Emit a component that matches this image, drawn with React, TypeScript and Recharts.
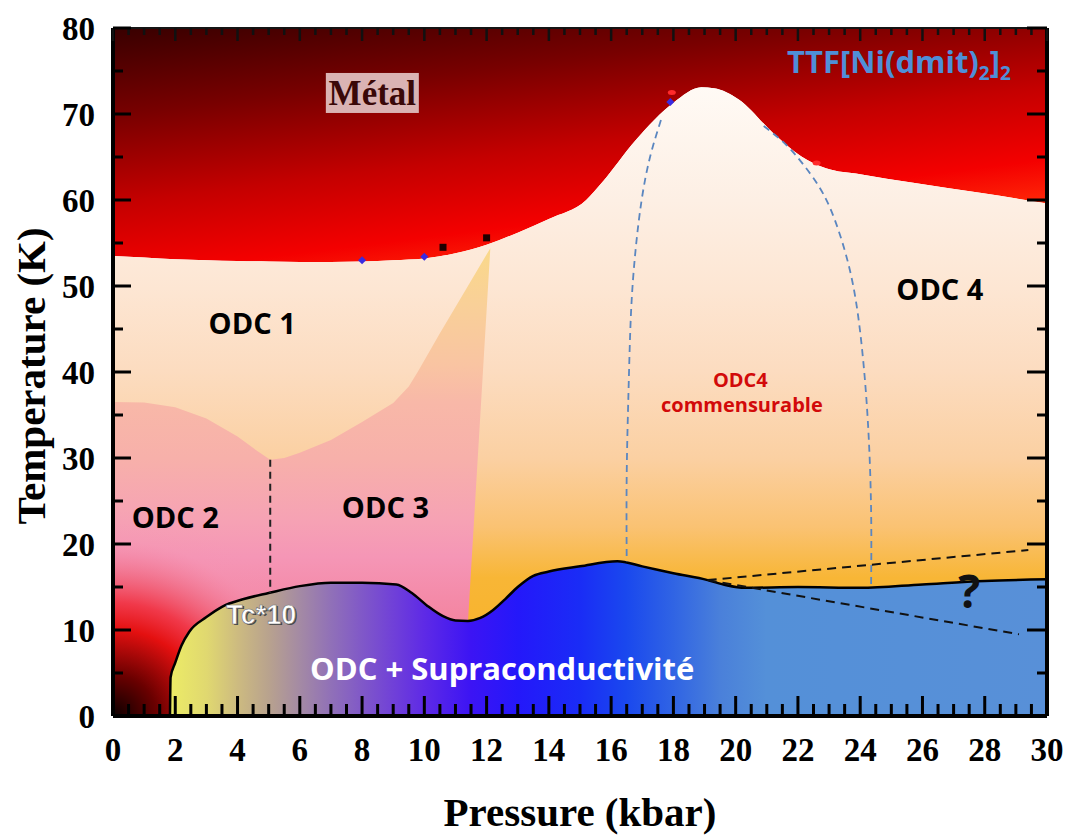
import React from 'react';
import { ComposedChart, Area, Line, XAxis, YAxis, ReferenceDot } from 'recharts';

const SERIF = '"Liberation Serif", "Times New Roman", serif';
const SANS = '"Open Sans", "Noto Sans", sans-serif';
const ARIAL = '"Liberation Sans", Arial, sans-serif';

// Metal -> ODC transition (pressure kbar, temperature K)
const metalBoundary = [
  { p: 0, t: 53.5 }, { p: 1, t: 53.3 }, { p: 2, t: 53.1 }, { p: 3, t: 53.0 }, { p: 4, t: 52.9 },
  { p: 5, t: 52.85 }, { p: 6, t: 52.8 }, { p: 7, t: 52.8 }, { p: 8, t: 52.85 }, { p: 9, t: 53.0 },
  { p: 10, t: 53.2 }, { p: 11, t: 53.8 }, { p: 12, t: 54.8 }, { p: 13, t: 56.2 }, { p: 14, t: 57.8 },
  { p: 15.2, t: 60.0 }, { p: 15.7, t: 62.0 }, { p: 16.8, t: 67.0 }, { p: 18, t: 71.3 }, { p: 18.9, t: 73.1 },
  { p: 19.3, t: 73.0 }, { p: 20.1, t: 71.7 }, { p: 21.2, t: 67.8 }, { p: 22.1, t: 65.1 }, { p: 22.9, t: 63.7 },
  { p: 24, t: 63.0 }, { p: 25.7, t: 62.0 }, { p: 27.9, t: 60.8 }, { p: 30, t: 59.6 },
];

// ODC1 / (ODC2, ODC3) boundary
const odc1Boundary = [
  { p: 0, t: 36.5 }, { p: 1, t: 36.45 }, { p: 2, t: 35.9 }, { p: 3, t: 34.6 }, { p: 4, t: 32.5 },
  { p: 4.6, t: 30.9 }, { p: 5.05, t: 29.8 }, { p: 5.5, t: 30.0 }, { p: 6, t: 30.6 }, { p: 7, t: 32.1 },
  { p: 8, t: 34.2 }, { p: 9, t: 36.4 }, { p: 9.5, t: 38.3 }, { p: 9.8, t: 40.1 }, { p: 10.5, t: 44.5 },
  { p: 11.22, t: 48.9 },
];
const wedgeTip = { p: 12.12, t: 54.4 };

// Superconducting dome (Tc*10)
const scDome = [
  { p: 1.83, t: 0 }, { p: 1.85, t: 4.5 }, { p: 2.0, t: 6.2 }, { p: 2.2, t: 8.2 }, { p: 2.45, t: 9.8 },
  { p: 3.0, t: 11.5 }, { p: 3.5, t: 12.7 }, { p: 4.2, t: 13.6 }, { p: 5.0, t: 14.3 }, { p: 6.0, t: 15.1 },
  { p: 7.0, t: 15.5 }, { p: 8.0, t: 15.5 }, { p: 9.1, t: 15.3 }, { p: 9.6, t: 14.3 }, { p: 10.1, t: 12.8 },
  { p: 10.6, t: 11.6 }, { p: 11.0, t: 11.1 }, { p: 11.4, t: 11.05 }, { p: 11.8, t: 11.4 }, { p: 12.2, t: 12.3 },
  { p: 12.6, t: 13.6 }, { p: 13.0, t: 15.0 }, { p: 13.5, t: 16.3 }, { p: 14.0, t: 16.8 }, { p: 15.0, t: 17.4 },
  { p: 16.2, t: 18.0 }, { p: 17.0, t: 17.4 }, { p: 18.0, t: 16.6 }, { p: 19.1, t: 15.8 }, { p: 19.7, t: 15.2 },
  { p: 20.3, t: 14.9 }, { p: 22, t: 15.0 }, { p: 24, t: 14.9 }, { p: 26, t: 15.3 }, { p: 28, t: 15.7 },
  { p: 30, t: 15.9 },
];

const cornerGlow = [{ p: 0, t: 24 }, { p: 7, t: 24 }];

const odc23Divider = [{ p: 5.05, t: 29.8 }, { p: 5.05, t: 14.3 }];
const commLeft = [
  { p: 17.6, t: 69.3 }, { p: 17.25, t: 65 }, { p: 16.98, t: 60 }, { p: 16.78, t: 54 }, { p: 16.64, t: 47 },
  { p: 16.56, t: 38 }, { p: 16.5, t: 28 }, { p: 16.5, t: 18.0 },
];
const commRight = [
  { p: 20.9, t: 68.6 }, { p: 21.6, t: 66.5 }, { p: 22.2, t: 64 }, { p: 22.8, t: 60.8 }, { p: 23.3, t: 56.5 },
  { p: 23.75, t: 50.5 }, { p: 24.05, t: 43 }, { p: 24.25, t: 34 }, { p: 24.35, t: 24 }, { p: 24.35, t: 15.0 },
];
const upperDashed = [{ p: 19.1, t: 15.8 }, { p: 29.4, t: 19.3 }];
const lowerDashed = [{ p: 19.1, t: 15.8 }, { p: 29.1, t: 9.5 }];

const blueDiamonds = [{ p: 8.0, t: 53.0 }, { p: 10.0, t: 53.4 }, { p: 17.9, t: 71.4 }];
const darkSquares = [{ p: 10.6, t: 54.5 }, { p: 12.0, t: 55.6 }];
const redMarks = [{ p: 17.95, t: 72.5 }, { p: 22.6, t: 64.3 }];

const xTicks = [
  0, 0.5, 1, 1.5, 2, 2.5, 3, 3.5, 4, 4.5, 5, 5.5, 6, 6.5, 7, 7.5, 8, 8.5, 9, 9.5, 10, 10.5, 11, 11.5,
  12, 12.5, 13, 13.5, 14, 14.5, 15, 15.5, 16, 16.5, 17, 17.5, 18, 18.5, 19, 19.5, 20, 20.5, 21, 21.5,
  22, 22.5, 23, 23.5, 24, 24.5, 25, 25.5, 26, 26.5, 27, 27.5, 28, 28.5, 29, 29.5, 30,
];
const xLabels = [0, 2, 4, 6, 8, 10, 12, 14, 16, 18, 20, 22, 24, 26, 28, 30];
const yTicks = [0, 5, 10, 15, 20, 25, 30, 35, 40, 45, 50, 55, 60, 65, 70, 75, 80];
const yLabels = [0, 10, 20, 30, 40, 50, 60, 70, 80];

const regionLabels = [
  { text: 'ODC 1', p: 4.47, t: 44.4 },
  { text: 'ODC 2', p: 2.0, t: 21.9 },
  { text: 'ODC 3', p: 8.75, t: 23.0 },
  { text: 'ODC 4', p: 26.56, t: 48.4 },
];

const BottomTick = (props: any) => {
  const { x, y, payload } = props;
  const v = Number(payload.value);
  const major = xLabels.includes(v);
  return (
    <g>
      <line x1={x} x2={x} y1={y} y2={y - (major ? 20 : 12)} stroke="#000" strokeWidth={3} />
      {major && (
        <text x={x} y={y + 45} textAnchor="middle" fontFamily={SERIF} fontWeight={700} fontSize={33} fill="#000">
          {v}
        </text>
      )}
    </g>
  );
};

const TopTick = (props: any) => {
  const { x, y, payload } = props;
  const v = Number(payload.value);
  const major = xLabels.includes(v);
  return <line x1={x} x2={x} y1={y} y2={y + (major ? 13 : 7)} stroke="#111" strokeWidth={2.5} />;
};

const LeftTick = (props: any) => {
  const { x, y, payload } = props;
  const v = Number(payload.value);
  const major = yLabels.includes(v);
  return (
    <g>
      <line x1={x} x2={x + (major ? 18 : 10)} y1={y} y2={y} stroke="#000" strokeWidth={3} />
      {major && (
        <text x={x - 18} y={y} dy="0.35em" textAnchor="end" fontFamily={SERIF} fontWeight={700} fontSize={33} fill="#000">
          {v}
        </text>
      )}
    </g>
  );
};

const RightTick = (props: any) => {
  const { x, y, payload } = props;
  const v = Number(payload.value);
  const major = yLabels.includes(v);
  return <line x1={x} x2={x - (major ? 20 : 10)} y1={y} y2={y} stroke="#000" strokeWidth={3} />;
};

const XTitle = (props: any) => {
  const vb = props.viewBox || { x: 113, y: 716, width: 934, height: 60 };
  return (
    <text x={vb.x + vb.width / 2} y={vb.y + 110} textAnchor="middle" fontFamily={SERIF} fontWeight={700} fontSize={41} fill="#000">
      Pressure (kbar)
    </text>
  );
};

const YTitle = (props: any) => {
  const vb = props.viewBox || { x: 53, y: 28, width: 60, height: 688 };
  const cx = vb.x - 8;
  const cy = vb.y + vb.height / 2 + 4;
  return (
    <text x={cx} y={cy} transform={`rotate(-90, ${cx}, ${cy})`} textAnchor="middle" fontFamily={SERIF} fontWeight={700} fontSize={41} fill="#000">
      Temperature (K)
    </text>
  );
};

export default function App() {
  const metalData = metalBoundary.map((d) => ({ p: d.p, r: [d.t, 80] }));
  const pinkData = [
    ...odc1Boundary.map((d) => ({ p: d.p, r: [0, d.t] })),
    { p: wedgeTip.p, r: [wedgeTip.t, wedgeTip.t] },
  ];
  const cornerData = cornerGlow.map((d) => ({ p: d.p, r: [0, d.t] }));

  return (
    <div style={{ position: 'absolute', left: 0, top: 0, width: 1072, height: 840, background: '#fff' }}>
      <ComposedChart width={1072} height={840} margin={{ top: 18, right: 15, bottom: 64, left: 53 }}>
        <defs>
          <linearGradient id="metalGrad" x1="0" y1="0" x2="0.5" y2="1">
            <stop offset="0" stopColor="#380000" />
            <stop offset="0.3" stopColor="#780000" />
            <stop offset="0.6" stopColor="#c40000" />
            <stop offset="0.85" stopColor="#f40000" />
            <stop offset="1" stopColor="#ff2808" />
          </linearGradient>
          <linearGradient id="creamGrad" x1="0" y1="0" x2="0" y2="1">
            <stop offset="0" stopColor="#fffaf5" />
            <stop offset="0.18" stopColor="#fdefe4" />
            <stop offset="0.32" stopColor="#fde6d3" />
            <stop offset="0.45" stopColor="#fcdcc0" />
            <stop offset="0.59" stopColor="#fbd0a2" />
            <stop offset="0.7" stopColor="#fac272" />
            <stop offset="0.78" stopColor="#f8b636" />
            <stop offset="1" stopColor="#f8b020" />
          </linearGradient>
          <linearGradient id="pinkGrad" x1="0" y1="0" x2="0" y2="1">
            <stop offset="0" stopColor="#fad98a" />
            <stop offset="0.12" stopColor="#f9d098" />
            <stop offset="0.25" stopColor="#f9c4a2" />
            <stop offset="0.33" stopColor="#f8b8a8" />
            <stop offset="0.45" stopColor="#f7b0aa" />
            <stop offset="0.58" stopColor="#f6a2b4" />
            <stop offset="0.66" stopColor="#f596b6" />
            <stop offset="0.75" stopColor="#f48aa8" />
            <stop offset="1" stopColor="#f07080" />
          </linearGradient>
          <radialGradient id="cornerGrad" cx="0" cy="1" r="1" fx="0" fy="1">
            <stop offset="0" stopColor="#0a0000" stopOpacity={1} />
            <stop offset="0.2" stopColor="#6a0000" stopOpacity={1} />
            <stop offset="0.42" stopColor="#e41010" stopOpacity={1} />
            <stop offset="0.55" stopColor="#f03040" stopOpacity={0.9} />
            <stop offset="0.7" stopColor="#f06078" stopOpacity={0.55} />
            <stop offset="0.85" stopColor="#f590b0" stopOpacity={0.2} />
            <stop offset="1" stopColor="#f596b6" stopOpacity={0} />
          </radialGradient>
          <linearGradient id="domeGrad" x1="0" y1="0" x2="1" y2="0">
            <stop offset="0" stopColor="#ecec66" />
            <stop offset="0.042" stopColor="#e0d870" />
            <stop offset="0.077" stopColor="#cdbb80" />
            <stop offset="0.113" stopColor="#b8a28e" />
            <stop offset="0.148" stopColor="#a48aa4" />
            <stop offset="0.184" stopColor="#9070b8" />
            <stop offset="0.219" stopColor="#8058c8" />
            <stop offset="0.255" stopColor="#7040d8" />
            <stop offset="0.29" stopColor="#5e2ae6" />
            <stop offset="0.343" stopColor="#3c14f4" />
            <stop offset="0.397" stopColor="#2418fa" />
            <stop offset="0.467" stopColor="#1a2cf6" />
            <stop offset="0.52" stopColor="#1a48ee" />
            <stop offset="0.574" stopColor="#3064e4" />
            <stop offset="0.627" stopColor="#4a80da" />
            <stop offset="0.68" stopColor="#5490d8" />
            <stop offset="1" stopColor="#5890d8" />
          </linearGradient>
        </defs>

        <Area data={metalData} dataKey="r" type="monotone" stroke="none" fill="url(#metalGrad)" fillOpacity={1} isAnimationActive={false} activeDot={false} />
        <Area data={metalBoundary} dataKey="t" type="monotone" baseValue={0} stroke="none" fill="url(#creamGrad)" fillOpacity={1} isAnimationActive={false} activeDot={false} />
        <Area data={pinkData} dataKey="r" type="linear" stroke="none" fill="url(#pinkGrad)" fillOpacity={1} isAnimationActive={false} activeDot={false} />
        <Area data={cornerData} dataKey="r" type="linear" stroke="none" fill="url(#cornerGrad)" fillOpacity={1} isAnimationActive={false} activeDot={false} />
        <Area data={scDome} dataKey="t" type="monotone" baseValue={0} stroke="#000" strokeWidth={2.5} fill="url(#domeGrad)" fillOpacity={1} isAnimationActive={false} activeDot={false} />

        <Line data={odc23Divider} dataKey="t" type="linear" stroke="#222" strokeWidth={2} strokeDasharray="7 5" dot={false} activeDot={false} isAnimationActive={false} />
        <Line data={commLeft} dataKey="t" type="natural" stroke="#5a86c0" strokeWidth={1.8} strokeDasharray="7 5" dot={false} activeDot={false} isAnimationActive={false} />
        <Line data={commRight} dataKey="t" type="natural" stroke="#5a86c0" strokeWidth={1.8} strokeDasharray="7 5" dot={false} activeDot={false} isAnimationActive={false} />
        <Line data={upperDashed} dataKey="t" type="linear" stroke="#111" strokeWidth={2} strokeDasharray="9 6" dot={false} activeDot={false} isAnimationActive={false} />
        <Line data={lowerDashed} dataKey="t" type="linear" stroke="#111" strokeWidth={2} strokeDasharray="9 6" dot={false} activeDot={false} isAnimationActive={false} />

        <XAxis xAxisId={0} dataKey="p" type="number" domain={[0, 30]} allowDataOverflow ticks={xTicks} interval={0}
          tickSize={0} tickMargin={0} tickLine={false} tick={BottomTick} axisLine={{ stroke: '#000', strokeWidth: 4 }}
          height={60} label={XTitle} />
        <XAxis xAxisId="top" orientation="top" dataKey="p" type="number" domain={[0, 30]} allowDataOverflow ticks={xTicks} interval={0}
          tickSize={0} tickMargin={0} tickLine={false} tick={TopTick} axisLine={{ stroke: '#151515', strokeWidth: 2 }} height={10} />
        <YAxis yAxisId={0} type="number" domain={[0, 80]} allowDataOverflow ticks={yTicks} interval={0}
          tickSize={0} tickMargin={0} tickLine={false} tick={LeftTick} axisLine={{ stroke: '#000', strokeWidth: 4 }}
          width={60} label={YTitle} />
        <YAxis yAxisId="right" orientation="right" type="number" domain={[0, 80]} allowDataOverflow ticks={yTicks} interval={0}
          tickSize={0} tickMargin={0} tickLine={false} tick={RightTick} axisLine={{ stroke: '#000', strokeWidth: 4 }} width={10} />

        {blueDiamonds.map((d, i) => (
          <ReferenceDot key={`bd${i}`} x={d.p} y={d.t} r={1}
            shape={(s: any) => <path d={`M${s.cx},${s.cy - 4} L${s.cx + 4},${s.cy} L${s.cx},${s.cy + 4} L${s.cx - 4},${s.cy} Z`} fill="#3a2ae0" />} />
        ))}
        {darkSquares.map((d, i) => (
          <ReferenceDot key={`ds${i}`} x={d.p} y={d.t} r={1}
            shape={(s: any) => <rect x={s.cx - 3.5} y={s.cy - 3.5} width={7} height={7} fill="#200000" />} />
        ))}
        {redMarks.map((d, i) => (
          <ReferenceDot key={`rm${i}`} x={d.p} y={d.t} r={1}
            shape={(s: any) => <ellipse cx={s.cx} cy={s.cy} rx={4} ry={2.5} fill="#ff2a2a" />} />
        ))}

        {regionLabels.map((l, i) => (
          <ReferenceDot key={`rl${i}`} x={l.p} y={l.t} r={1}
            shape={(s: any) => (
              <text x={s.cx} y={s.cy} textAnchor="middle" fontFamily={SANS} fontWeight={700} fontSize={29} fill="#000">{l.text}</text>
            )} />
        ))}

        <ReferenceDot x={8.33} y={71.05} r={1}
          shape={(s: any) => (
            <g>
              <rect x={s.cx - 46.5} y={s.cy - 32} width={93} height={40} fill="#dab3b3" />
              <text x={s.cx} y={s.cy} textAnchor="middle" fontFamily={SERIF} fontWeight={700} fontSize={35} fill="#3a0808">Métal</text>
            </g>
          )} />

        <ReferenceDot x={21.65} y={74.8} r={1}
          shape={(s: any) => (
            <text x={s.cx} y={s.cy} textAnchor="start" fontFamily={SANS} fontWeight={700} fontSize={31} fill="#4f8fd8">
              TTF[Ni(dmit)<tspan fontSize={19} dy={7}>2</tspan><tspan dy={-7}>]</tspan><tspan fontSize={19} dy={7}>2</tspan>
            </text>
          )} />

        <ReferenceDot x={20.15} y={38.3} r={1}
          shape={(s: any) => (
            <text x={s.cx} y={s.cy} textAnchor="middle" fontFamily={SANS} fontWeight={700} fontSize={20} fill="#d20a0a">ODC4</text>
          )} />
        <ReferenceDot x={20.2} y={35.3} r={1}
          shape={(s: any) => (
            <text x={s.cx} y={s.cy} textAnchor="middle" fontFamily={SANS} fontWeight={700} fontSize={20} fill="#d20a0a">commensurable</text>
          )} />

        <ReferenceDot x={4.76} y={10.7} r={1}
          shape={(s: any) => (
            <g>
              <text x={s.cx + 1.5} y={s.cy + 1.5} textAnchor="middle" fontFamily={ARIAL} fontWeight={700} fontSize={27} fill="#444">Tc*10</text>
              <text x={s.cx} y={s.cy} textAnchor="middle" fontFamily={ARIAL} fontWeight={700} fontSize={27} fill="#fff" stroke="#777" strokeWidth={0.7}>Tc*10</text>
            </g>
          )} />

        <ReferenceDot x={12.5} y={4.2} r={1}
          shape={(s: any) => (
            <text x={s.cx} y={s.cy} textAnchor="middle" fontFamily={SANS} fontWeight={700} fontSize={31} fill="#fff">ODC + Supraconductivité</text>
          )} />

        <ReferenceDot x={27.5} y={12.6} r={1}
          shape={(s: any) => (
            <text x={s.cx} y={s.cy} textAnchor="middle" fontFamily={SANS} fontWeight={700} fontSize={46} fill="#111">?</text>
          )} />
      </ComposedChart>
    </div>
  );
}
